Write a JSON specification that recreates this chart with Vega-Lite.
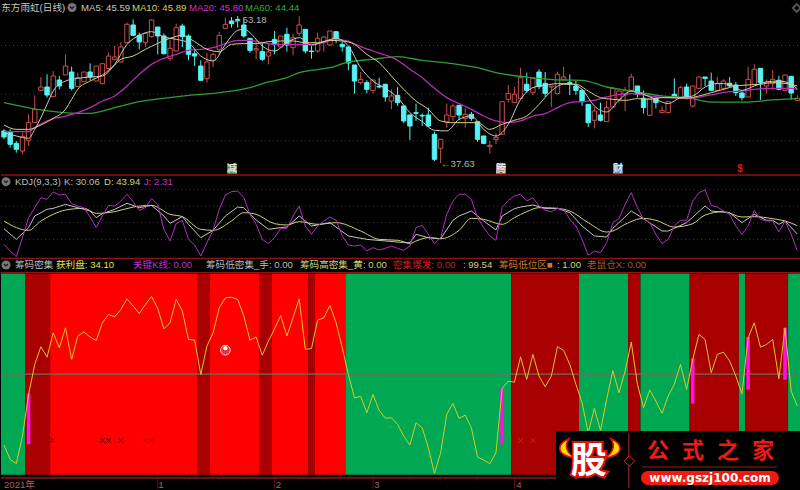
{"$schema":"https://vega.github.io/schema/vega-lite/v6.json","background":"#000000","padding":0,"bounds":"flush","spacing":0,
"resolve":{"scale":{"color":"independent","fill":"independent","stroke":"independent"}},
"config":{"view":{"stroke":null},"axis":{"disable":true},"legend":{"disable":true},"text":{"font":"'Liberation Sans','Noto Sans CJK SC'","fontSize":9.6,"align":"left","baseline":"middle"},"concat":{"spacing":0}},
"datasets":{
"candles":[
{"i":0,"h":41.24,"o":41.07,"c":40.42,"l":40.17,"d":"down"},{"i":1,"h":41.24,"o":40.96,"c":39.64,"l":39.28,"d":"down"},{"i":2,"h":39.99,"o":39.74,"c":39.10,"l":38.74,"d":"down"},{"i":3,"h":40.89,"o":38.92,"c":40.46,"l":38.56,"d":"up"},{"i":4,"h":42.85,"o":40.06,"c":41.96,"l":39.46,"d":"up"},{"i":5,"h":44.89,"o":41.96,"c":43.39,"l":41.96,"d":"up"},{"i":6,"h":46.85,"o":45.42,"c":45.78,"l":45.42,"d":"up"},{"i":7,"h":47.14,"o":45.78,"c":44.92,"l":44.64,"d":"down"},{"i":8,"h":47.50,"o":44.75,"c":46.96,"l":44.75,"d":"up"},{"i":9,"h":46.96,"o":46.53,"c":45.89,"l":45.53,"d":"down"},
{"i":10,"h":49.28,"o":47.07,"c":48.03,"l":47.07,"d":"up"},{"i":11,"h":47.96,"o":47.39,"c":45.64,"l":45.42,"d":"down"},{"i":12,"h":47.32,"o":45.82,"c":46.78,"l":45.78,"d":"up"},{"i":13,"h":47.39,"o":46.35,"c":47.39,"l":46.35,"d":"up"},{"i":14,"h":48.32,"o":47.39,"c":46.85,"l":46.50,"d":"down"},{"i":15,"h":48.03,"o":46.42,"c":48.03,"l":46.42,"d":"up"},{"i":16,"h":48.28,"o":46.14,"c":48.28,"l":46.07,"d":"up"},{"i":17,"h":49.46,"o":47.78,"c":49.10,"l":47.68,"d":"up"},{"i":18,"h":50.18,"o":48.75,"c":49.00,"l":48.64,"d":"up"},{"i":19,"h":50.61,"o":48.46,"c":50.07,"l":48.39,"d":"up"},
{"i":20,"h":52.68,"o":50.53,"c":52.50,"l":50.46,"d":"up"},{"i":21,"h":53.03,"o":52.43,"c":51.32,"l":51.25,"d":"down"},{"i":22,"h":51.61,"o":51.32,"c":50.61,"l":49.82,"d":"down"},{"i":23,"h":51.53,"o":50.53,"c":51.53,"l":50.07,"d":"up"},{"i":24,"h":53.03,"o":51.18,"c":52.96,"l":51.07,"d":"up"},{"i":25,"h":52.21,"o":52.21,"c":51.25,"l":49.28,"d":"down"},{"i":26,"h":51.53,"o":51.25,"c":49.35,"l":49.28,"d":"down"},{"i":27,"h":50.89,"o":48.82,"c":49.93,"l":48.57,"d":"up"},{"i":28,"h":52.57,"o":49.64,"c":52.14,"l":49.64,"d":"up"},{"i":29,"h":52.57,"o":52.32,"c":51.18,"l":50.07,"d":"down"},
{"i":30,"h":51.43,"o":51.25,"c":49.28,"l":48.64,"d":"down"},{"i":31,"h":49.71,"o":49.35,"c":49.10,"l":48.03,"d":"down"},{"i":32,"h":48.64,"o":48.03,"c":46.50,"l":46.42,"d":"down"},{"i":33,"h":49.46,"o":46.67,"c":48.46,"l":46.25,"d":"up"},{"i":34,"h":49.46,"o":48.64,"c":49.28,"l":47.93,"d":"up"},{"i":35,"h":51.71,"o":49.82,"c":51.32,"l":49.28,"d":"up"},{"i":36,"h":53.21,"o":52.07,"c":52.50,"l":52.03,"d":"up"},{"i":37,"h":53.28,"o":52.86,"c":52.57,"l":52.14,"d":"down"},{"i":38,"h":53.39,"o":53.03,"c":52.93,"l":52.14,"d":"down"},{"i":39,"h":53.03,"o":52.43,"c":51.25,"l":51.07,"d":"down"},
{"i":40,"h":51.00,"o":51.00,"c":49.71,"l":49.46,"d":"down"},{"i":41,"h":50.89,"o":49.75,"c":49.89,"l":48.75,"d":"up"},{"i":42,"h":50.53,"o":49.57,"c":48.75,"l":48.57,"d":"down"},{"i":43,"h":50.35,"o":49.10,"c":49.53,"l":48.21,"d":"up"},{"i":44,"h":51.78,"o":50.89,"c":50.35,"l":49.28,"d":"down"},{"i":45,"h":51.25,"o":50.07,"c":51.25,"l":50.00,"d":"up"},{"i":46,"h":52.14,"o":51.43,"c":50.28,"l":49.57,"d":"down"},{"i":47,"h":51.53,"o":50.00,"c":51.07,"l":49.18,"d":"up"},{"i":48,"h":53.36,"o":51.53,"c":52.43,"l":51.25,"d":"up"},{"i":49,"h":51.96,"o":51.96,"c":49.64,"l":49.39,"d":"down"},
{"i":50,"h":50.18,"o":49.64,"c":49.57,"l":48.82,"d":"down"},{"i":51,"h":51.61,"o":49.64,"c":51.00,"l":49.46,"d":"up"},{"i":52,"h":51.25,"o":50.61,"c":51.14,"l":49.57,"d":"up"},{"i":53,"h":51.78,"o":50.28,"c":51.78,"l":50.18,"d":"up"},{"i":54,"h":51.78,"o":51.71,"c":50.89,"l":50.46,"d":"down"},{"i":55,"h":50.64,"o":50.35,"c":50.10,"l":49.57,"d":"down"},{"i":56,"h":50.07,"o":50.07,"c":48.35,"l":47.57,"d":"down"},{"i":57,"h":48.14,"o":48.14,"c":46.42,"l":45.07,"d":"down"},{"i":58,"h":47.39,"o":46.25,"c":46.60,"l":46.07,"d":"up"},{"i":59,"h":46.50,"o":46.25,"c":45.53,"l":45.10,"d":"down"},
{"i":60,"h":46.60,"o":45.42,"c":46.53,"l":45.10,"d":"up"},{"i":61,"h":46.78,"o":45.85,"c":45.78,"l":45.64,"d":"down"},{"i":62,"h":46.14,"o":46.07,"c":44.71,"l":44.21,"d":"down"},{"i":63,"h":45.53,"o":44.28,"c":44.82,"l":43.39,"d":"up"},{"i":64,"h":45.78,"o":44.89,"c":44.10,"l":43.75,"d":"down"},{"i":65,"h":43.75,"o":43.75,"c":42.14,"l":41.89,"d":"down"},{"i":66,"h":42.85,"o":42.78,"c":41.60,"l":40.10,"d":"down"},{"i":67,"h":44.00,"o":43.03,"c":42.96,"l":42.14,"d":"down"},{"i":68,"h":42.92,"o":42.74,"c":42.67,"l":41.60,"d":"down"},{"i":69,"h":43.57,"o":42.78,"c":41.60,"l":41.49,"d":"down"},
{"i":70,"h":40.99,"o":40.71,"c":38.03,"l":37.85,"d":"down"},{"i":71,"h":40.17,"o":39.21,"c":40.17,"l":37.63,"d":"up"},{"i":72,"h":44.00,"o":42.03,"c":42.78,"l":41.42,"d":"up"},{"i":73,"h":44.00,"o":42.60,"c":43.75,"l":42.14,"d":"up"},{"i":74,"h":43.82,"o":43.82,"c":42.78,"l":42.24,"d":"down"},{"i":75,"h":43.49,"o":42.42,"c":42.85,"l":41.42,"d":"up"},{"i":76,"h":43.10,"o":42.85,"c":42.42,"l":42.14,"d":"down"},{"i":77,"h":42.07,"o":42.07,"c":40.17,"l":39.92,"d":"down"},{"i":78,"h":40.53,"o":40.53,"c":39.74,"l":39.64,"d":"down"},{"i":79,"h":39.99,"o":39.39,"c":39.53,"l":38.64,"d":"up"},
{"i":80,"h":40.82,"o":40.17,"c":40.35,"l":39.64,"d":"up"},{"i":81,"h":44.21,"o":40.71,"c":44.21,"l":40.71,"d":"up"},{"i":82,"h":46.00,"o":44.46,"c":45.07,"l":44.10,"d":"up"},{"i":83,"h":45.78,"o":44.10,"c":45.00,"l":44.10,"d":"up"},{"i":84,"h":47.85,"o":44.53,"c":46.78,"l":44.53,"d":"up"},{"i":85,"h":47.32,"o":46.07,"c":45.42,"l":45.17,"d":"down"},{"i":86,"h":46.71,"o":45.17,"c":46.71,"l":44.92,"d":"up"},{"i":87,"h":47.68,"o":47.39,"c":45.82,"l":45.53,"d":"down"},{"i":88,"h":47.39,"o":46.17,"c":45.10,"l":44.71,"d":"down"},{"i":89,"h":45.89,"o":45.78,"c":45.89,"l":43.64,"d":"up"},
{"i":90,"h":47.43,"o":45.07,"c":47.14,"l":45.00,"d":"up"},{"i":91,"h":47.96,"o":46.60,"c":46.85,"l":46.60,"d":"up"},{"i":92,"h":47.14,"o":46.25,"c":46.17,"l":44.92,"d":"down"},{"i":93,"h":46.42,"o":45.89,"c":45.42,"l":44.92,"d":"down"},{"i":94,"h":45.53,"o":45.42,"c":44.21,"l":43.75,"d":"down"},{"i":95,"h":43.92,"o":43.92,"c":41.96,"l":41.49,"d":"down"},{"i":96,"h":43.64,"o":42.21,"c":43.21,"l":41.35,"d":"up"},{"i":97,"h":44.10,"o":42.78,"c":42.21,"l":42.07,"d":"down"},{"i":98,"h":44.28,"o":42.07,"c":43.57,"l":42.07,"d":"up"},{"i":99,"h":45.78,"o":43.64,"c":45.64,"l":43.57,"d":"up"},
{"i":100,"h":45.42,"o":44.46,"c":45.35,"l":44.10,"d":"up"},{"i":101,"h":45.78,"o":44.92,"c":45.42,"l":43.21,"d":"up"},{"i":102,"h":47.21,"o":45.42,"c":46.85,"l":45.35,"d":"up"},{"i":103,"h":45.89,"o":45.89,"c":45.00,"l":44.64,"d":"down"},{"i":104,"h":45.42,"o":44.57,"c":43.57,"l":42.92,"d":"down"},{"i":105,"h":44.57,"o":42.74,"c":44.57,"l":42.67,"d":"up"},{"i":106,"h":44.82,"o":44.57,"c":44.10,"l":43.49,"d":"down"},{"i":107,"h":43.75,"o":43.03,"c":43.28,"l":43.03,"d":"up"},{"i":108,"h":44.21,"o":43.03,"c":44.21,"l":43.03,"d":"up"},{"i":109,"h":46.71,"o":45.00,"c":44.71,"l":44.64,"d":"down"},
{"i":110,"h":45.89,"o":44.64,"c":45.71,"l":44.64,"d":"up"},{"i":111,"h":46.14,"o":45.78,"c":44.57,"l":44.46,"d":"down"},{"i":112,"h":45.89,"o":43.75,"c":45.89,"l":43.57,"d":"up"},{"i":113,"h":46.92,"o":45.64,"c":46.85,"l":45.53,"d":"up"},{"i":114,"h":46.85,"o":46.85,"c":46.71,"l":45.89,"d":"down"},{"i":115,"h":47.32,"o":46.42,"c":45.42,"l":45.35,"d":"down"},{"i":116,"h":46.85,"o":45.42,"c":46.14,"l":45.35,"d":"up"},{"i":117,"h":46.60,"o":45.64,"c":46.42,"l":45.42,"d":"up"},{"i":118,"h":46.85,"o":46.17,"c":45.89,"l":45.78,"d":"down"},{"i":119,"h":46.32,"o":46.00,"c":45.17,"l":44.82,"d":"down"},
{"i":120,"h":45.28,"o":45.14,"c":44.64,"l":44.35,"d":"down"},{"i":121,"h":47.96,"o":44.71,"c":46.60,"l":44.71,"d":"up"},{"i":122,"h":48.21,"o":46.07,"c":47.68,"l":46.00,"d":"up"},{"i":123,"h":47.78,"o":47.78,"c":46.25,"l":44.39,"d":"down"},{"i":124,"h":46.60,"o":45.89,"c":46.32,"l":45.07,"d":"up"},{"i":125,"h":47.60,"o":46.14,"c":46.60,"l":45.64,"d":"up"},{"i":126,"h":46.96,"o":46.50,"c":45.53,"l":45.42,"d":"down"},{"i":127,"h":47.07,"o":45.42,"c":47.07,"l":45.35,"d":"up"},{"i":128,"h":46.92,"o":46.92,"c":45.14,"l":44.42,"d":"down"},{"i":129,"h":44.89,"o":44.35,"c":44.57,"l":44.35,"d":"up"}],
"ma5":[{"i":0,"v":40.89},{"i":2,"v":40.53},{"i":4,"v":40.28},{"i":5,"v":41.24},{"i":6,"v":42.49},{"i":7,"v":43.92},{"i":8,"v":45.35},{"i":10,"v":46.42},{"i":12,"v":46.71},{"i":14,"v":46.85},{"i":16,"v":46.96},{"i":18,"v":48.21},{"i":20,"v":50.35},{"i":22,"v":51.32},{"i":24,"v":51.71},{"i":26,"v":51.14},{"i":28,"v":50.89},{"i":30,"v":50.53},{"i":32,"v":49.10},{"i":34,"v":48.57},{"i":36,"v":50.35},{"i":37,"v":51.25},{"i":38,"v":51.86},{"i":39,"v":51.96},{"i":40,"v":51.61},{"i":41,"v":50.89},{"i":42,"v":50.18},{"i":44,"v":49.64},{"i":46,"v":50.53},{"i":48,"v":51.07},{"i":50,"v":50.28},{"i":52,"v":50.64},{"i":54,"v":51.00},{"i":56,"v":50.18},{"i":58,"v":47.85},{"i":60,"v":46.42},{"i":62,"v":45.64},{"i":64,"v":44.64},{"i":66,"v":43.03},{"i":68,"v":42.07},{"i":70,"v":41.14},{"i":72,"v":41.07},{"i":74,"v":42.32},{"i":76,"v":42.67},{"i":78,"v":41.24},{"i":80,"v":40.53},{"i":82,"v":41.78},{"i":84,"v":44.46},{"i":86,"v":45.71},{"i":88,"v":45.96},{"i":90,"v":46.14},{"i":92,"v":46.14},{"i":94,"v":45.53},{"i":96,"v":43.75},{"i":98,"v":43.10},{"i":100,"v":44.35},{"i":102,"v":45.35},{"i":104,"v":45.00},{"i":106,"v":44.46},{"i":108,"v":44.00},{"i":110,"v":44.64},{"i":112,"v":44.82},{"i":114,"v":45.78},{"i":116,"v":46.17},{"i":118,"v":46.07},{"i":120,"v":45.42},{"i":122,"v":45.89},{"i":124,"v":46.32},{"i":126,"v":46.42},{"i":128,"v":46.07},{"i":129,"v":45.59}],
"ma10":[{"i":0,"v":41.71},{"i":2,"v":41.24},{"i":4,"v":41.24},{"i":6,"v":41.71},{"i":8,"v":42.42},{"i":10,"v":43.39},{"i":11,"v":44.46},{"i":12,"v":45.53},{"i":14,"v":46.42},{"i":16,"v":47.07},{"i":18,"v":48.14},{"i":19,"v":48.75},{"i":21,"v":49.10},{"i":23,"v":49.82},{"i":25,"v":50.46},{"i":27,"v":51.00},{"i":29,"v":51.32},{"i":31,"v":50.64},{"i":33,"v":49.82},{"i":35,"v":49.57},{"i":37,"v":50.35},{"i":39,"v":50.43},{"i":41,"v":50.43},{"i":43,"v":50.64},{"i":45,"v":50.71},{"i":47,"v":50.71},{"i":49,"v":50.53},{"i":51,"v":50.53},{"i":53,"v":50.78},{"i":55,"v":50.71},{"i":57,"v":50.35},{"i":59,"v":49.28},{"i":61,"v":48.39},{"i":63,"v":46.96},{"i":65,"v":45.53},{"i":67,"v":44.28},{"i":69,"v":43.39},{"i":71,"v":42.14},{"i":73,"v":41.96},{"i":75,"v":41.96},{"i":77,"v":41.96},{"i":79,"v":41.24},{"i":81,"v":41.78},{"i":83,"v":42.21},{"i":85,"v":42.67},{"i":87,"v":43.92},{"i":89,"v":45.35},{"i":91,"v":46.07},{"i":93,"v":46.07},{"i":95,"v":45.35},{"i":97,"v":44.64},{"i":99,"v":44.46},{"i":101,"v":44.35},{"i":103,"v":44.53},{"i":105,"v":44.46},{"i":107,"v":44.64},{"i":109,"v":44.64},{"i":111,"v":44.57},{"i":113,"v":44.82},{"i":115,"v":45.17},{"i":117,"v":45.53},{"i":119,"v":45.89},{"i":121,"v":46.00},{"i":123,"v":46.07},{"i":125,"v":46.25},{"i":127,"v":46.17},{"i":129,"v":45.89}],
"ma20":[{"i":0,"v":41.00},{"i":2,"v":41.00},{"i":4,"v":41.00},{"i":5,"v":41.42},{"i":7,"v":42.14},{"i":10,"v":42.67},{"i":12,"v":43.03},{"i":14,"v":43.57},{"i":16,"v":44.28},{"i":18,"v":44.82},{"i":20,"v":45.89},{"i":22,"v":47.14},{"i":24,"v":48.21},{"i":26,"v":48.85},{"i":28,"v":49.28},{"i":30,"v":49.71},{"i":32,"v":49.82},{"i":34,"v":50.00},{"i":36,"v":50.43},{"i":38,"v":50.78},{"i":40,"v":50.78},{"i":42,"v":50.53},{"i":44,"v":50.35},{"i":46,"v":50.35},{"i":48,"v":50.35},{"i":50,"v":50.35},{"i":52,"v":50.53},{"i":54,"v":50.89},{"i":56,"v":50.71},{"i":58,"v":50.10},{"i":60,"v":49.64},{"i":62,"v":49.21},{"i":64,"v":48.64},{"i":66,"v":47.68},{"i":68,"v":46.78},{"i":70,"v":45.64},{"i":72,"v":44.64},{"i":74,"v":44.00},{"i":76,"v":43.39},{"i":78,"v":42.67},{"i":80,"v":42.14},{"i":82,"v":41.96},{"i":84,"v":42.14},{"i":86,"v":42.67},{"i":88,"v":42.92},{"i":90,"v":43.57},{"i":92,"v":44.10},{"i":94,"v":44.21},{"i":96,"v":44.35},{"i":98,"v":44.71},{"i":100,"v":45.00},{"i":102,"v":45.07},{"i":104,"v":44.92},{"i":106,"v":44.71},{"i":108,"v":44.64},{"i":110,"v":44.57},{"i":112,"v":44.57},{"i":114,"v":44.82},{"i":116,"v":45.07},{"i":118,"v":45.28},{"i":120,"v":45.35},{"i":122,"v":45.53},{"i":124,"v":45.64},{"i":126,"v":45.64},{"i":128,"v":45.64},{"i":129,"v":45.53}],
"ma60":[{"i":0,"v":44.10},{"i":6,"v":43.32},{"i":12,"v":42.96},{"i":14,"v":42.96},{"i":18,"v":43.57},{"i":22,"v":44.21},{"i":26,"v":44.57},{"i":30,"v":44.89},{"i":34,"v":45.10},{"i":36,"v":45.25},{"i":40,"v":45.71},{"i":43,"v":46.32},{"i":46,"v":46.78},{"i":48,"v":47.32},{"i":53,"v":47.85},{"i":56,"v":48.46},{"i":60,"v":48.75},{"i":64,"v":49.03},{"i":68,"v":48.64},{"i":73,"v":48.28},{"i":77,"v":47.85},{"i":80,"v":47.32},{"i":85,"v":46.85},{"i":91,"v":46.53},{"i":94,"v":46.50},{"i":98,"v":45.78},{"i":102,"v":45.35},{"i":107,"v":44.82},{"i":111,"v":44.64},{"i":115,"v":44.17},{"i":121,"v":44.17},{"i":125,"v":44.39},{"i":129,"v":44.53}]
},
"vconcat":[
{"width":800,"height":175,
"encoding":{"x":{"field":"i","type":"quantitative","scale":{"domain":[-0.488,129.6],"nice":false,"zero":false,"padding":0},"axis":null},"y":{"field":"v","type":"quantitative","scale":{"domain":[36.24,55],"nice":false,"zero":false,"padding":0},"axis":null}},
"layer":[
{"data":{"values":[{"i":-0.488,"i2":129.6,"v":50.23},{"i":-0.488,"i2":129.6,"v":45.03},{"i":-0.488,"i2":129.6,"v":39.99}]},"mark":{"type":"rule","color":"#7a1c1c","strokeWidth":1,"strokeDash":[1,3]},"encoding":{"x2":{"field":"i2"}}},
{"data":{"name":"candles"},"mark":{"type":"rule","strokeWidth":1},"encoding":{"y":{"field":"h","type":"quantitative","scale":{"domain":[36.24,55],"nice":false,"zero":false,"padding":0},"axis":null},"y2":{"field":"l"},"stroke":{"field":"d","type":"nominal","scale":{"domain":["up","down"],"range":["#c8504a","#54f4f4"]}}}},
{"data":{"name":"candles"},"mark":{"type":"bar","size":4.4,"strokeWidth":1},"encoding":{"y":{"field":"o","type":"quantitative","scale":{"domain":[36.24,55],"nice":false,"zero":false,"padding":0},"axis":null},"y2":{"field":"c"},"fill":{"field":"d","type":"nominal","scale":{"domain":["up","down"],"range":["#000000","#54f4f4"]}},"stroke":{"field":"d","type":"nominal","scale":{"domain":["up","down"],"range":["#c8504a","#54f4f4"]}}}},
{"data":{"name":"ma60"},"mark":{"type":"line","color":"#2f9e30","strokeWidth":1.3,"interpolate":"monotone"}},
{"data":{"name":"ma20"},"mark":{"type":"line","color":"#b82cb8","strokeWidth":1.3,"interpolate":"monotone"}},
{"data":{"name":"ma10"},"mark":{"type":"line","color":"#d8d07e","strokeWidth":1,"interpolate":"monotone"}},
{"data":{"name":"ma5"},"mark":{"type":"line","color":"#c8c8c8","strokeWidth":1,"interpolate":"monotone"}},
{"data":{"values":[{"i":-0.488,"i2":129.6,"v":36.35}]},"mark":{"type":"rule","color":"#8c1414","strokeWidth":1.5},"encoding":{"x2":{"field":"i2"}}},
{"data":{"values":[{"i":37.07,"v":36.99,"s":"减"},{"i":80.81,"v":36.99,"s":"腾"},{"i":99.84,"v":36.99,"s":"财"}]},"mark":{"type":"point","shape":"square","filled":true,"size":100,"opacity":1},"encoding":{"color":{"field":"s","type":"nominal","scale":{"domain":["减","腾","财","n","a","b","c","g","w","r"],"range":["#2c8a3a","#a06030","#3a6aa0","#c8c8c8","#d8d060","#d030d0","#30b030","#b0b0b0","#e8e8e8","#e01818"]}}}},
{"data":{"values":[{"i":37.07,"v":36.99,"t":"减","s":"w"},{"i":80.81,"v":36.99,"t":"腾","s":"w"},{"i":99.84,"v":36.99,"t":"财","s":"w"},{"i":119.7,"v":36.99,"t":"$","s":"r"}]},"mark":{"type":"text","align":"center","fontSize":10,"fontWeight":"bold"},"encoding":{"text":{"field":"t"},"color":{"field":"s","type":"nominal","scale":{"domain":["减","腾","财","n","a","b","c","g","w","r"],"range":["#2c8a3a","#a06030","#3a6aa0","#c8c8c8","#d8d060","#d030d0","#30b030","#b0b0b0","#e8e8e8","#e01818"]}}}},
{"data":{"values":[{"i":-0.45,"v":54.3,"t":"东方雨虹(日线)","s":"n"},{"i":12.52,"v":54.3,"t":"MA5: 45.59","s":"n"},{"i":20.81,"v":54.3,"t":"MA10: 45.89","s":"a"},{"i":30.08,"v":54.3,"t":"MA20: 45.80","s":"b"},{"i":39.18,"v":54.3,"t":"MA60: 44.44","s":"c"},{"i":37.24,"v":52.96,"t":"←53.18","s":"g"},{"i":71.06,"v":37.58,"t":"←37.63","s":"g"}]},"mark":{"type":"text"},"encoding":{"text":{"field":"t"},"color":{"field":"s","type":"nominal","scale":{"domain":["减","腾","财","n","a","b","c","g","w","r"],"range":["#2c8a3a","#a06030","#3a6aa0","#c8c8c8","#d8d060","#d030d0","#30b030","#b0b0b0","#e8e8e8","#e01818"]}}}},
{"data":{"values":[{"i":11.06,"v":54.3}]},"mark":{"type":"point","shape":"circle","filled":true,"color":"#777777","size":80,"opacity":1}},
{"data":{"values":[{"i":11.06,"v":54.3}]},"mark":{"type":"point","shape":"M-1,-0.5L0,0.5L1,-0.5","filled":false,"color":"#1a1a1a","size":16,"strokeWidth":1.2,"opacity":1}},
{"data":{"values":[{"i":128.9,"v":54.25}]},"mark":{"type":"point","shape":"diamond","filled":false,"color":"#555555","size":60,"opacity":1}}
]},
{"width":800,"height":95,
"encoding":{"x":{"field":"i","type":"quantitative","scale":{"domain":[-0.488,129.6],"nice":false,"zero":false,"padding":0},"axis":null},"y":{"field":"v","type":"quantitative","scale":{"domain":[-31.5,126.68],"nice":false,"zero":false,"padding":0},"axis":null}},
"layer":[
{"data":{"values":[{"i":-0.488,"i2":129.6,"v":104.5},{"i":-0.488,"i2":129.6,"v":76.7},{"i":-0.488,"i2":129.6,"v":49},{"i":-0.488,"i2":129.6,"v":21.2}]},"mark":{"type":"rule","color":"#7a1c1c","strokeWidth":1,"strokeDash":[1,3]},"encoding":{"x2":{"field":"i2"}}},
{"data":{"values":[{"i":0,"v":51.8},{"i":2,"v":40.7},{"i":4,"v":36.2},{"i":6,"v":51.8},{"i":8,"v":62.9},{"i":10,"v":70},{"i":13,"v":72.8},{"i":15,"v":64.5},{"i":18,"v":67.3},{"i":21,"v":75},{"i":24,"v":77.8},{"i":27,"v":62.9},{"i":29,"v":59},{"i":32,"v":37.9},{"i":34,"v":36.2},{"i":37,"v":51.8},{"i":39,"v":65.6},{"i":41,"v":62.9},{"i":44,"v":47.3},{"i":46,"v":45.1},{"i":48,"v":50.6},{"i":51,"v":46.2},{"i":54,"v":49},{"i":58,"v":35.1},{"i":61,"v":21.2},{"i":64,"v":19.6},{"i":65,"v":17.3},{"i":66,"v":14},{"i":67,"v":18.4},{"i":69,"v":24},{"i":71,"v":22.3},{"i":74,"v":36.2},{"i":76,"v":56.2},{"i":78,"v":54.5},{"i":81,"v":46.2},{"i":83,"v":57.3},{"i":85,"v":67.3},{"i":87,"v":73.9},{"i":90,"v":72.8},{"i":92,"v":68.4},{"i":95,"v":49},{"i":98,"v":33.4},{"i":99,"v":35.1},{"i":101,"v":46.2},{"i":104,"v":56.2},{"i":106,"v":52.9},{"i":109,"v":41.8},{"i":112,"v":47.3},{"i":114,"v":61.7},{"i":117,"v":67.3},{"i":120,"v":58.4},{"i":122,"v":59},{"i":125,"v":55.6},{"i":127,"v":51.8},{"i":129,"v":43.94}]},"mark":{"type":"line","color":"#d2d27a","strokeWidth":1,"interpolate":"monotone"}},
{"data":{"values":[{"i":0,"v":39},{"i":2,"v":21.2},{"i":4,"v":40.7},{"i":5,"v":60.1},{"i":7,"v":71.2},{"i":8,"v":72.8},{"i":10,"v":79.5},{"i":12,"v":73.9},{"i":14,"v":68.4},{"i":15,"v":57.3},{"i":16,"v":64},{"i":18,"v":71.2},{"i":20,"v":81.2},{"i":22,"v":73.9},{"i":24,"v":77.8},{"i":26,"v":60.1},{"i":27,"v":47.9},{"i":29,"v":59},{"i":30,"v":46.2},{"i":32,"v":24},{"i":34,"v":36.2},{"i":36,"v":60.1},{"i":38,"v":75},{"i":39,"v":73.9},{"i":41,"v":53.4},{"i":43,"v":37.9},{"i":45,"v":40.7},{"i":46,"v":41.8},{"i":48,"v":60.1},{"i":50,"v":43.4},{"i":53,"v":49},{"i":56,"v":26.8},{"i":59,"v":21.2},{"i":64,"v":16.8},{"i":65,"v":15.7},{"i":66,"v":15.7},{"i":67,"v":29.6},{"i":69,"v":24},{"i":71,"v":22.3},{"i":73,"v":52.9},{"i":74,"v":60.1},{"i":76,"v":68.4},{"i":78,"v":51.8},{"i":80,"v":36.8},{"i":81,"v":60.1},{"i":83,"v":72.3},{"i":84,"v":75},{"i":86,"v":78.4},{"i":88,"v":72.8},{"i":90,"v":72.8},{"i":92,"v":65.6},{"i":94,"v":43.4},{"i":96,"v":26.8},{"i":98,"v":25.1},{"i":99,"v":39.5},{"i":102,"v":68.4},{"i":104,"v":55.6},{"i":107,"v":35.1},{"i":108,"v":35.1},{"i":111,"v":49},{"i":114,"v":76.7},{"i":115,"v":68.4},{"i":118,"v":65.6},{"i":120,"v":49},{"i":122,"v":62.9},{"i":124,"v":52.9},{"i":125,"v":52.9},{"i":126,"v":46.2},{"i":127,"v":51.8},{"i":129,"v":30.06}]},"mark":{"type":"line","color":"#c4c4c4","strokeWidth":1}},
{"data":{"values":[{"i":0,"v":12.9},{"i":1,"v":1.8},{"i":2,"v":-7.6},{"i":3,"v":24},{"i":4,"v":57.3},{"i":5,"v":73.9},{"i":6,"v":90.6},{"i":7,"v":87.8},{"i":8,"v":100},{"i":9,"v":95},{"i":10,"v":96.2},{"i":11,"v":80.6},{"i":12,"v":76.7},{"i":13,"v":73.9},{"i":14,"v":58.4},{"i":15,"v":40.7},{"i":16,"v":60.1},{"i":17,"v":77.8},{"i":18,"v":76.7},{"i":19,"v":85},{"i":20,"v":96.2},{"i":21,"v":83.9},{"i":22,"v":69.5},{"i":23,"v":73.9},{"i":24,"v":88.9},{"i":25,"v":79.5},{"i":26,"v":37.9},{"i":27,"v":18.4},{"i":28,"v":47.3},{"i":29,"v":52.9},{"i":30,"v":21.2},{"i":31,"v":11.8},{"i":32,"v":-6.5},{"i":33,"v":15.7},{"i":34,"v":36.2},{"i":35,"v":71.2},{"i":36,"v":95},{"i":37,"v":100.6},{"i":38,"v":101.7},{"i":39,"v":90.6},{"i":40,"v":62.9},{"i":41,"v":46.2},{"i":42,"v":21.2},{"i":43,"v":14},{"i":44,"v":24},{"i":45,"v":39.5},{"i":46,"v":39.5},{"i":47,"v":60.1},{"i":48,"v":76.7},{"i":49,"v":43.4},{"i":50,"v":29.6},{"i":51,"v":43.4},{"i":52,"v":51.8},{"i":53,"v":58.4},{"i":54,"v":52.9},{"i":55,"v":26.8},{"i":56,"v":11.8},{"i":57,"v":10.1},{"i":58,"v":11.8},{"i":59,"v":1.8},{"i":60,"v":7.4},{"i":61,"v":3.5},{"i":62,"v":6.2},{"i":63,"v":10.1},{"i":64,"v":6.2},{"i":65,"v":2.9},{"i":66,"v":10.1},{"i":67,"v":40.7},{"i":68,"v":44.5},{"i":69,"v":29.6},{"i":70,"v":14},{"i":71,"v":24},{"i":72,"v":62.9},{"i":73,"v":85},{"i":74,"v":96.2},{"i":75,"v":96.2},{"i":76,"v":87.8},{"i":77,"v":57.3},{"i":78,"v":40.7},{"i":79,"v":26.8},{"i":80,"v":19.6},{"i":81,"v":73.9},{"i":82,"v":86.2},{"i":83,"v":93.4},{"i":84,"v":96.2},{"i":85,"v":85},{"i":86,"v":90.6},{"i":87,"v":76.7},{"i":88,"v":69.5},{"i":89,"v":67.3},{"i":90,"v":72.8},{"i":91,"v":71.2},{"i":92,"v":54.5},{"i":93,"v":43.4},{"i":94,"v":21.2},{"i":95,"v":-5.4},{"i":96,"v":1.8},{"i":97,"v":-1},{"i":98,"v":15.7},{"i":99,"v":49},{"i":100,"v":55.6},{"i":101,"v":79.5},{"i":102,"v":98.9},{"i":103,"v":73.9},{"i":104,"v":54.5},{"i":105,"v":49},{"i":106,"v":29.6},{"i":107,"v":14},{"i":108,"v":21.2},{"i":109,"v":43.4},{"i":110,"v":52.9},{"i":111,"v":52.9},{"i":112,"v":85},{"i":113,"v":98.9},{"i":114,"v":103.4},{"i":115,"v":77.8},{"i":116,"v":75},{"i":117,"v":68.4},{"i":118,"v":62.9},{"i":119,"v":43.4},{"i":120,"v":29.6},{"i":121,"v":43.4},{"i":122,"v":69.5},{"i":123,"v":54.5},{"i":124,"v":51.8},{"i":125,"v":51.8},{"i":126,"v":33.4},{"i":127,"v":51.8},{"i":128,"v":29.6},{"i":129,"v":2.31}]},"mark":{"type":"line","color":"#b030c0","strokeWidth":1}},
{"data":{"values":[{"i":-0.488,"i2":129.6,"v":-10.4}]},"mark":{"type":"rule","color":"#8c1414","strokeWidth":1.2},"encoding":{"x2":{"field":"i2"}}},
{"data":{"values":[{"i":0.325,"v":117.2},{"i":0.325,"v":-21.5}]},"mark":{"type":"point","shape":"circle","filled":true,"color":"#777777","size":80,"opacity":1}},
{"data":{"values":[{"i":0.325,"v":117.2},{"i":0.325,"v":-21.5}]},"mark":{"type":"point","shape":"M-1,-0.5L0,0.5L1,-0.5","filled":false,"color":"#1a1a1a","size":16,"strokeWidth":1.2,"opacity":1}},
{"data":{"values":[{"i":1.79,"v":117.2,"t":"KDJ(9,3,3)","s":"g"},{"i":9.76,"v":117.2,"t":"K: 30.06","s":"g"},{"i":16.26,"v":117.2,"t":"D: 43.94","s":"k"},{"i":22.76,"v":117.2,"t":"J: 2.31","s":"m"},{"i":1.79,"v":-21.5,"t":"筹码密集","s":"g"},{"i":8.46,"v":-21.5,"t":"获利盘: 34.10","s":"y"},{"i":20.98,"v":-21.5,"t":"关键K线: 0.00","s":"m"},{"i":32.85,"v":-21.5,"t":"筹码低密集_手: 0.00","s":"g"},{"i":48.13,"v":-21.5,"t":"筹码高密集_黄: 0.00","s":"k"},{"i":63.25,"v":-21.5,"t":"密集爆发: 0.00","s":"r"},{"i":74.63,"v":-21.5,"t":": 99.54","s":"k"},{"i":80.49,"v":-21.5,"t":"筹码低位区■","s":"o"},{"i":89.92,"v":-21.5,"t":": 1.00","s":"k"},{"i":94.8,"v":-21.5,"t":"老鼠仓X: 0.00","s":"b"}]},"mark":{"type":"text"},"encoding":{"text":{"field":"t"},"color":{"field":"s","type":"nominal","scale":{"domain":["g","k","m","y","r","o","b"],"range":["#bdbdbd","#d2d27a","#c030c8","#e0e050","#c82020","#c87e30","#b05a20"]}}}}
]},
{"width":800,"height":220,
"encoding":{"x":{"field":"i","type":"quantitative","scale":{"domain":[-0.488,129.6],"nice":false,"zero":false,"padding":0},"axis":null},"y":{"field":"v","type":"quantitative","scale":{"domain":[-8.1,101.24],"nice":false,"zero":false,"padding":0},"axis":null}},
"layer":[
{"data":{"values":[{"i":-0.488,"i2":3.5,"v":0,"v2":100,"k":"g"},{"i":3.5,"i2":7.5,"v":0,"v2":100,"k":"d"},{"i":7.5,"i2":31.5,"v":0,"v2":100,"k":"r"},{"i":31.5,"i2":33.5,"v":0,"v2":100,"k":"d"},{"i":33.5,"i2":41.5,"v":0,"v2":100,"k":"r"},{"i":41.5,"i2":43.5,"v":0,"v2":100,"k":"d"},{"i":43.5,"i2":49.5,"v":0,"v2":100,"k":"r"},{"i":49.5,"i2":50.5,"v":0,"v2":100,"k":"d"},{"i":50.5,"i2":55.5,"v":0,"v2":100,"k":"r"},{"i":55.5,"i2":82.5,"v":0,"v2":100,"k":"g"},{"i":82.5,"i2":93.5,"v":0,"v2":100,"k":"d"},{"i":93.5,"i2":101.5,"v":0,"v2":100,"k":"g"},{"i":101.5,"i2":103.5,"v":0,"v2":100,"k":"d"},{"i":103.5,"i2":111.5,"v":0,"v2":100,"k":"g"},{"i":111.5,"i2":119.5,"v":0,"v2":100,"k":"d"},{"i":119.5,"i2":120.5,"v":0,"v2":100,"k":"g"},{"i":120.5,"i2":127.5,"v":0,"v2":100,"k":"d"},{"i":127.5,"i2":129.6,"v":0,"v2":100,"k":"g"}]},"mark":{"type":"rect"},"encoding":{"x2":{"field":"i2"},"y2":{"field":"v2"},"color":{"field":"k","type":"nominal","scale":{"domain":["g","d","r"],"range":["#00a854","#a80000","#ff0000"]}}}},
{"data":{"values":[{"i":-0.488,"i2":129.6,"v":100.5}]},"mark":{"type":"rule","color":"#8c1414","strokeWidth":1.2},"encoding":{"x2":{"field":"i2"}}},
{"data":{"values":[{"i":0,"i2":129,"v":50}]},"mark":{"type":"rule","color":"#6e6e5e","strokeWidth":1.3},"encoding":{"x2":{"field":"i2"}}},
{"data":{"values":[{"i":8,"v":17.05,"z":"a"},{"i":16,"v":17.05,"z":"a"},{"i":17,"v":17.05,"z":"a"},{"i":19,"v":17.05,"z":"a"},{"i":23,"v":17.05,"z":"a"},{"i":24,"v":17.05,"z":"a"},{"i":84,"v":17.05,"z":"b"},{"i":86,"v":17.05,"z":"b"}]},"mark":{"type":"point","shape":"M-1,-1L1,1M-1,1L1,-1","filled":false,"strokeWidth":1,"size":22,"opacity":1},"encoding":{"stroke":{"field":"z","type":"nominal","scale":{"domain":["a","b"],"range":["#6a0000","#d82020"]}}}},
{"data":{"values":[{"i":4,"v":40.4,"v2":15.1},{"i":81,"v":43.2,"v2":15.1},{"i":112,"v":57.8,"v2":35.3},{"i":121,"v":68.4,"v2":42.2},{"i":127,"v":73,"v2":47.2}]},"mark":{"type":"bar","size":3.6,"color":"#ff10e0"},"encoding":{"y2":{"field":"v2"}}},
{"data":{"values":[{"i":0,"v":14.7},{"i":1,"v":7.6},{"i":2,"v":5.5},{"i":3,"v":19.2},{"i":4,"v":39.9},{"i":5,"v":54.8},{"i":6,"v":63.6},{"i":7,"v":58.4},{"i":8,"v":70.5},{"i":9,"v":63.1},{"i":10,"v":73},{"i":11,"v":57.3},{"i":12,"v":68.9},{"i":13,"v":71},{"i":14,"v":68.4},{"i":15,"v":66.7},{"i":16,"v":75.5},{"i":17,"v":79.6},{"i":18,"v":78.5},{"i":19,"v":82.1},{"i":20,"v":87.4},{"i":21,"v":83.8},{"i":22,"v":80.1},{"i":23,"v":84.6},{"i":24,"v":88.6},{"i":25,"v":82.6},{"i":26,"v":72.5},{"i":27,"v":75.5},{"i":28,"v":87.1},{"i":29,"v":81.3},{"i":30,"v":67.2},{"i":31,"v":66.9},{"i":32,"v":49.8},{"i":33,"v":63.9},{"i":34,"v":70.5},{"i":35,"v":82.9},{"i":36,"v":87.9},{"i":37,"v":88.2},{"i":38,"v":87.1},{"i":39,"v":78.8},{"i":40,"v":66.9},{"i":41,"v":68.4},{"i":42,"v":59.4},{"i":43,"v":66.4},{"i":44,"v":72.5},{"i":45,"v":79.1},{"i":46,"v":68.9},{"i":47,"v":78},{"i":48,"v":87.4},{"i":49,"v":62.3},{"i":50,"v":62.7},{"i":51,"v":76.8},{"i":52,"v":78},{"i":53,"v":84.1},{"i":54,"v":75.5},{"i":55,"v":63.1},{"i":56,"v":49.8},{"i":57,"v":38.2},{"i":58,"v":38.9},{"i":59,"v":30.8},{"i":60,"v":39.9},{"i":61,"v":32},{"i":62,"v":28.1},{"i":63,"v":28.3},{"i":64,"v":25},{"i":65,"v":19.2},{"i":66,"v":14.7},{"i":67,"v":25.8},{"i":68,"v":23.3},{"i":69,"v":13.4},{"i":70,"v":0.7},{"i":71,"v":10.9},{"i":72,"v":30},{"i":73,"v":35.4},{"i":74,"v":28},{"i":75,"v":29.6},{"i":76,"v":23.3},{"i":77,"v":8.8},{"i":78,"v":7.3},{"i":79,"v":5.5},{"i":80,"v":10.9},{"i":81,"v":42.9},{"i":82,"v":46.5},{"i":83,"v":46},{"i":84,"v":58.6},{"i":85,"v":47.4},{"i":86,"v":59.8},{"i":87,"v":49},{"i":88,"v":43.7},{"i":89,"v":49},{"i":90,"v":63.6},{"i":91,"v":61.8},{"i":92,"v":54.8},{"i":93,"v":44.9},{"i":94,"v":35.8},{"i":95,"v":20.9},{"i":96,"v":32.9},{"i":97,"v":22},{"i":98,"v":37.4},{"i":99,"v":51.8},{"i":100,"v":40.7},{"i":101,"v":51.5},{"i":102,"v":65.9},{"i":103,"v":44.9},{"i":104,"v":33.3},{"i":105,"v":42.1},{"i":106,"v":36.6},{"i":107,"v":30.5},{"i":108,"v":39.1},{"i":109,"v":44.9},{"i":110,"v":54.8},{"i":111,"v":42.4},{"i":112,"v":57.3},{"i":113,"v":69.7},{"i":114,"v":67.2},{"i":115,"v":50.7},{"i":116,"v":59.8},{"i":117,"v":60.9},{"i":118,"v":56.5},{"i":119,"v":49},{"i":120,"v":40.2},{"i":121,"v":68},{"i":122,"v":75.5},{"i":123,"v":63.4},{"i":124,"v":64.7},{"i":125,"v":67.2},{"i":126,"v":47.7},{"i":127,"v":73},{"i":128,"v":41.6},{"i":129,"v":34.1}]},"mark":{"type":"line","color":"#d8c92c","strokeWidth":1}},
{"data":{"values":[{"i":36,"v":61.9}]},"mark":{"type":"point","shape":"circle","filled":true,"color":"#d83c3c","stroke":"#f4c8c8","strokeWidth":1,"size":95,"opacity":1}},
{"data":{"values":[{"i":36,"v":62.9}]},"mark":{"type":"point","shape":"circle","filled":true,"color":"#ffffff","size":18,"opacity":0.9}},
{"data":{"values":[{"i":-0.488,"i2":129.6,"v":-1.64}]},"mark":{"type":"rule","color":"#641414","strokeWidth":2},"encoding":{"x2":{"field":"i2"}}},
{"data":{"values":[{"i":25,"v":-1.64,"v2":-7.1},{"i":44,"v":-1.64,"v2":-7.1},{"i":60,"v":-1.64,"v2":-7.1},{"i":83,"v":-1.64,"v2":-7.1},{"i":30,"v":-1.64,"v2":-2.9},{"i":35,"v":-1.64,"v2":-2.9},{"i":39,"v":-1.64,"v2":-2.9},{"i":48,"v":-1.64,"v2":-2.9},{"i":52,"v":-1.64,"v2":-2.9},{"i":56,"v":-1.64,"v2":-2.9},{"i":66,"v":-1.64,"v2":-2.9},{"i":71,"v":-1.64,"v2":-2.9},{"i":77,"v":-1.64,"v2":-2.9},{"i":88,"v":-1.64,"v2":-2.9}]},"mark":{"type":"rule","color":"#641414","strokeWidth":1},"encoding":{"y2":{"field":"v2"}}},
{"data":{"values":[{"i":0,"v":-5.1,"t":"2021年"},{"i":25.1,"v":-5.1,"t":"1"},{"i":44.2,"v":-5.1,"t":"2"},{"i":60.2,"v":-5.1,"t":"3"},{"i":83.3,"v":-5.1,"t":"4"}]},"mark":{"type":"text","color":"#a86060"},"encoding":{"text":{"field":"t"}}},
{"data":{"values":[{"i":89.76,"i2":129.6,"v":21.72,"v2":-8.1}]},"mark":{"type":"rect","color":"#000000"},"encoding":{"x2":{"field":"i2"},"y2":{"field":"v2"}}},
{"data":{"values":[{"i":101.6,"v":20.7,"v2":-6.6}]},"mark":{"type":"rule","color":"#b02a1a","strokeWidth":1},"encoding":{"y2":{"field":"v2"}}},
{"data":{"values":[{"i":101.7,"v":6.8}]},"mark":{"type":"point","shape":"diamond","filled":true,"fill":"#000000","stroke":"#d83020","strokeWidth":1,"size":110,"opacity":1}},
{"data":{"values":[{"i":103.74,"i2":125.7,"v":3.83}]},"mark":{"type":"rule","color":"#8c2010","strokeWidth":1},"encoding":{"x2":{"field":"i2"}}},
{"data":{"values":[{"i":103.6,"i2":126,"v":1.84,"v2":-5.12}]},"mark":{"type":"rect","color":"#f01a10","cornerRadius":7},"encoding":{"x2":{"field":"i2"},"y2":{"field":"v2"}}},
{"data":{"values":[{"i":114.8,"v":-1.64,"t":"www.gszj100.com"}]},"mark":{"type":"text","align":"center","color":"#ffffff","fontWeight":"bold","fontSize":12,"font":"DejaVu Sans"},"encoding":{"text":{"field":"t"}}},
{"data":{"values":[{"i":106.34,"v":11.78,"t":"公"},{"i":112.03,"v":11.78,"t":"式"},{"i":117.72,"v":11.78,"t":"之"},{"i":123.42,"v":11.78,"t":"家"}]},"mark":{"type":"text","align":"center","color":"#f01a10","fontWeight":"bold","fontSize":22,"font":"Noto Sans CJK SC"},"encoding":{"text":{"field":"t"}}},
{"data":{"values":[{"i":91.54,"v":12.8}]},"mark":{"type":"point","shape":"M0.2,-1C-1,-0.5,-1.2,0.6,0.8,0.9C0,0.4,-0.3,-0.3,0.2,-1Z","filled":true,"fill":"#ffd800","stroke":"#e01010","strokeWidth":1.5,"size":420,"opacity":1}},
{"data":{"values":[{"i":99,"v":12.8}]},"mark":{"type":"point","shape":"M-0.2,-1C1,-0.5,1.2,0.6,-0.8,0.9C0,0.4,0.3,-0.3,-0.2,-1Z","filled":true,"fill":"#ffd800","stroke":"#e01010","strokeWidth":1.5,"size":420,"opacity":1}},
{"data":{"values":[{"i":95.1,"v":6.3,"t":"股"}]},"mark":{"type":"text","align":"center","color":"#e01010","stroke":"#e01010","strokeWidth":4,"fontWeight":"bold","fontSize":36,"font":"Noto Sans CJK SC"},"encoding":{"text":{"field":"t"}}},
{"data":{"values":[{"i":95.1,"v":6.3,"t":"股"}]},"mark":{"type":"text","align":"center","color":"#ffffff","fontWeight":"bold","fontSize":36,"font":"Noto Sans CJK SC"},"encoding":{"text":{"field":"t"}}}
]}
]}
